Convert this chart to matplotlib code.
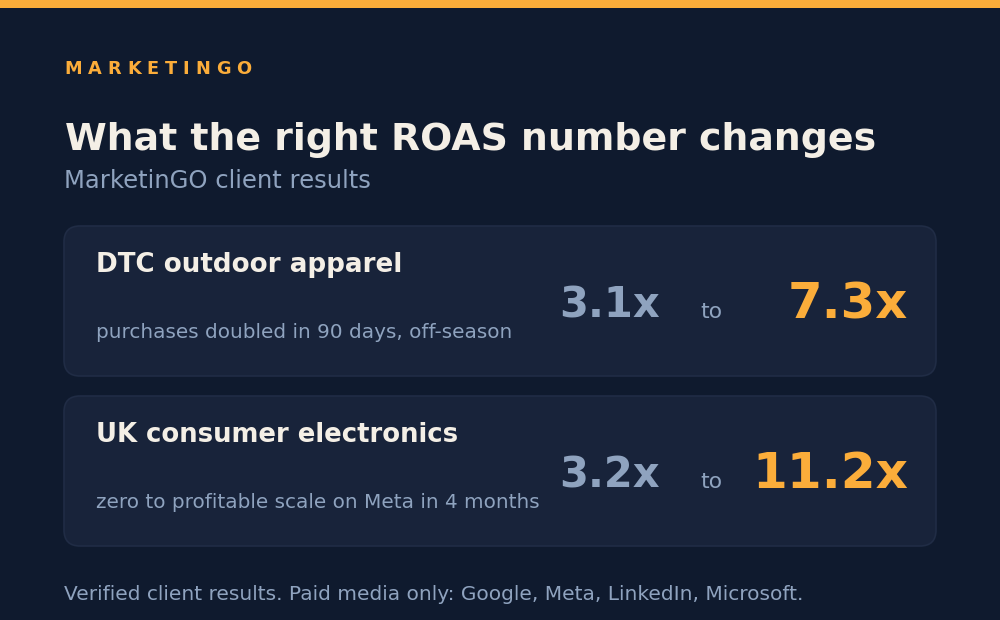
import matplotlib
matplotlib.use("Agg")
import matplotlib.pyplot as plt
from matplotlib.patches import Rectangle, FancyBboxPatch

# ---- data ----
brand = "MARKETINGO"
title = "What the right ROAS number changes"
subtitle = "MarketinGO client results"
clients = ["DTC outdoor apparel", "UK consumer electronics"]
descriptions = ["purchases doubled in 90 days, off-season",
                "zero to profitable scale on Meta in 4 months"]
roas_before = [3.1, 3.2]
roas_after = [7.3, 11.2]
footer = "Verified client results. Paid media only: Google, Meta, LinkedIn, Microsoft."

# ---- style ----
BG = "#0f1a2e"
CARD = "#18233a"
CARD_EDGE = "#202c45"
ORANGE = "#fbad3a"
CREAM = "#f4efe6"
MUTED = "#8fa3bf"
plt.rcParams['font.family'] = ['DejaVu Sans']

fig = plt.figure(figsize=(10, 6.2), dpi=100)
fig.patch.set_facecolor(BG)
ax = fig.add_axes([0, 0, 1, 1])
ax.set_xlim(0, 1000)
ax.set_ylim(620, 0)
ax.axis('off')
renderer = fig.canvas.get_renderer()


def fit(x, y, s, width, size0=12, ha='left', **kw):
    t = ax.text(x, y, s, fontsize=size0, va='baseline', ha=ha, **kw)
    bb = t.get_window_extent(renderer)
    t.set_fontsize(size0 * width / bb.width)
    return t


ax.add_patch(Rectangle((0, 0), 1000, 8, color=ORANGE, lw=0))

# letter-spaced brand
size = 12.8
widths = []
for ch in brand:
    t = ax.text(0, 0, ch, fontsize=size, fontweight='bold')
    widths.append(t.get_window_extent(renderer).width)
    t.remove()
total = 187
gap = (total - sum(widths)) / (len(brand) - 1)
x = 64.5
for ch, w in zip(brand, widths):
    ax.text(x, 73.5, ch, fontsize=size, fontweight='bold', color=ORANGE, va='baseline')
    x += w + gap

fit(65, 150, title, 813, 24, fontweight='bold', color=CREAM)
fit(64, 188.5, subtitle, 307, 15, color=MUTED)

for i, (c, d, b, a) in enumerate(zip(clients, descriptions, roas_before, roas_after)):
    top = 226 + i * 170
    ax.add_patch(FancyBboxPatch((64, top), 872, 150,
                                boxstyle="round,pad=0,rounding_size=16",
                                facecolor=CARD, edgecolor=CARD_EDGE, lw=1.2))
    fit(96, top + 46, c, 364 if i else 307, 15, fontweight='bold', color=CREAM)
    fit(96, top + 112, d, 440 if i else 413, 12, color=MUTED)
    fit(660, top + 92, f"{b}x", 101, 28, ha='right', fontweight='bold', color=MUTED)
    fit(711, top + 92, "to", 22, 12, ha='center', color=MUTED)
    fit(908, top + 92.5, f"{a}x", 156 if a >= 10 else 120, 34, ha='right',
        fontweight='bold', color=ORANGE)

fit(64, 600, footer, 736, 12, color=MUTED)

fig.savefig("out.png", dpi=100, facecolor=BG)
